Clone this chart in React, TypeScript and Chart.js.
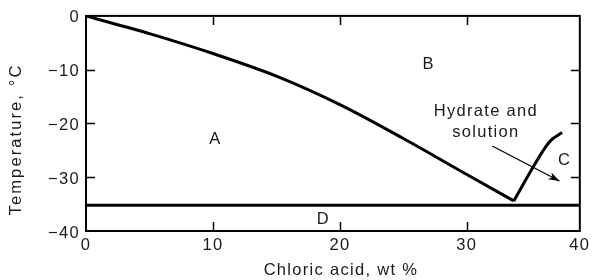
import React, { useEffect, useRef } from 'react';
import { Chart, registerables } from 'chart.js';

Chart.register(...registerables);

// ---- axis ticks ----
const X_MAX = 38.9; // right frame of the plot (labelled "40" in the source)
const X_TICK_VALUES = [0, 10, 20, 30, X_MAX];
const X_TICK_LABELS = ['0', '10', '20', '30', '40'];
const Y_TICK_VALUES = [0, -10, -20, -30, -40];
const Y_TICK_LABELS = ['0', '−10', '−20', '−30', '−40'];
const INNER_X_TICKS = [10, 20, 30];
const INNER_Y_TICKS = [-10, -20, -30];

// ---- curves ----
const ICE_X = [0, 5, 10, 15, 20, 25, 30, 33.7];
const ICE_T = [0, -3.3, -7.0, -11.2, -16.5, -22.8, -29.5, -34.4];
const HYDRATE_X = [33.7, 35.2, 36.0, 36.6, 37.5];
const HYDRATE_T = [-34.4, -28.2, -25.1, -23.2, -21.7];
const EUTECTIC_T = -35.2;

// ---- annotation arrow ----
const ARROW_X = [32.0, 37.3];
const ARROW_T = [-24.2, -30.7];

// ---- labels ----
const REGION_LABELS = ['A', 'B', 'C', 'D'];
const REGION_X = [10.2, 27.0, 37.7, 18.7];
const REGION_T = [-23.0, -9.0, -26.9, -37.8];
const NOTE_LINES = ['Hydrate and', 'solution'];
const NOTE_X = [31.5, 31.5];
const NOTE_T = [-17.7, -21.6];

const X_TITLE = 'Chloric acid, wt %';
const Y_TITLE = 'Temperature, °C';

const FONT_FAMILY = '"Liberation Sans", Arial, Helvetica, sans-serif';
const FONT_SIZE = 16.5;
const TEXT_COLOR = '#1a1a1a';

const toPts = (xs: number[], ys: number[]) => xs.map((x, i) => ({ x, y: ys[i] }));

const decorPlugin = {
  id: 'decor',
  beforeDraw(chart: any) {
    chart.ctx.letterSpacing = '1.3px';
  },
  afterDraw(chart: any) {
    const { ctx, chartArea, scales } = chart;
    const xs = scales.x;
    const ys = scales.y;
    const { left, right, top, bottom } = chartArea;
    ctx.save();
    ctx.letterSpacing = '1.3px';
    // frame
    ctx.strokeStyle = '#000';
    ctx.lineWidth = 2;
    ctx.strokeRect(left, top, right - left, bottom - top);
    // inward ticks
    ctx.lineWidth = 1.5;
    const tl = 9;
    ctx.beginPath();
    INNER_X_TICKS.forEach((v) => {
      const px = Math.round(xs.getPixelForValue(v)) + 0.5;
      ctx.moveTo(px, top);
      ctx.lineTo(px, top + tl);
      ctx.moveTo(px, bottom);
      ctx.lineTo(px, bottom - tl);
    });
    INNER_Y_TICKS.forEach((v) => {
      const py = Math.round(ys.getPixelForValue(v)) + 0.5;
      ctx.moveTo(left, py);
      ctx.lineTo(left + tl, py);
      ctx.moveTo(right, py);
      ctx.lineTo(right - tl, py);
    });
    ctx.stroke();

    // arrowhead
    const x0 = xs.getPixelForValue(ARROW_X[0]);
    const y0 = ys.getPixelForValue(ARROW_T[0]);
    const x1 = xs.getPixelForValue(ARROW_X[1]);
    const y1 = ys.getPixelForValue(ARROW_T[1]);
    const ang = Math.atan2(y1 - y0, x1 - x0);
    const L = 11;
    const W = 3.8;
    ctx.fillStyle = '#000';
    ctx.beginPath();
    ctx.moveTo(x1, y1);
    ctx.lineTo(x1 - L * Math.cos(ang) + W * Math.sin(ang), y1 - L * Math.sin(ang) - W * Math.cos(ang));
    ctx.lineTo(x1 - L * 0.75 * Math.cos(ang), y1 - L * 0.75 * Math.sin(ang));
    ctx.lineTo(x1 - L * Math.cos(ang) - W * Math.sin(ang), y1 - L * Math.sin(ang) + W * Math.cos(ang));
    ctx.closePath();
    ctx.fill();

    // text labels
    ctx.fillStyle = TEXT_COLOR;
    ctx.font = `${FONT_SIZE}px ${FONT_FAMILY}`;
    ctx.textAlign = 'center';
    ctx.textBaseline = 'middle';
    REGION_LABELS.forEach((t, i) => {
      ctx.fillText(t, xs.getPixelForValue(REGION_X[i]), ys.getPixelForValue(REGION_T[i]));
    });
    NOTE_LINES.forEach((t, i) => {
      ctx.fillText(t, xs.getPixelForValue(NOTE_X[i]), ys.getPixelForValue(NOTE_T[i]));
    });

    // axis titles
    ctx.fillText(X_TITLE, (left + right) / 2 + 8, bottom + 39);
    ctx.save();
    ctx.letterSpacing = '2.1px';
    ctx.translate(16, (top + bottom) / 2 + 16);
    ctx.rotate(-Math.PI / 2);
    ctx.fillText(Y_TITLE, 0, 0);
    ctx.restore();

    ctx.restore();
  },
};

export default function App() {
  const ref = useRef<HTMLCanvasElement | null>(null);

  useEffect(() => {
    if (!ref.current) return;
    const line = { borderColor: '#000', pointRadius: 0, showLine: true, fill: false };
    const chart = new Chart(ref.current, {
      type: 'scatter',
      data: {
        datasets: [
          { ...line, label: 'ice', data: toPts(ICE_X, ICE_T), borderWidth: 3, cubicInterpolationMode: 'monotone' },
          { ...line, label: 'hydrate', data: toPts(HYDRATE_X, HYDRATE_T), borderWidth: 3, cubicInterpolationMode: 'monotone' },
          { ...line, label: 'eutectic', data: [{ x: 0, y: EUTECTIC_T }, { x: X_MAX, y: EUTECTIC_T }], borderWidth: 3 },
          { ...line, label: 'arrow', data: toPts(ARROW_X, ARROW_T), borderWidth: 1.3 },
        ] as any,
      },
      options: {
        animation: false,
        responsive: false,
        layout: { padding: { top: 14, right: 13, left: 0, bottom: 0 } },
        plugins: { legend: { display: false }, tooltip: { enabled: false } },
        scales: {
          x: {
            type: 'linear',
            min: 0,
            max: X_MAX,
            grid: { display: false, drawTicks: false },
            border: { display: false },
            afterBuildTicks: (s: any) => {
              s.ticks = X_TICK_VALUES.map((value) => ({ value }));
            },
            afterFit: (s: any) => {
              s.height = 49;
            },
            ticks: {
              autoSkip: false,
              maxRotation: 0,
              padding: 5,
              color: TEXT_COLOR,
              font: { family: FONT_FAMILY, size: FONT_SIZE },
              callback: (v: any) => X_TICK_LABELS[X_TICK_VALUES.indexOf(Number(v))] ?? '',
            },
          },
          y: {
            type: 'linear',
            min: -40,
            max: 0,
            grid: { display: false, drawTicks: false },
            border: { display: false },
            afterBuildTicks: (s: any) => {
              s.ticks = [...Y_TICK_VALUES].reverse().map((value) => ({ value }));
            },
            afterFit: (s: any) => {
              s.width = 86;
            },
            ticks: {
              autoSkip: false,
              padding: 6,
              labelOffset: 2,
              color: TEXT_COLOR,
              font: { family: FONT_FAMILY, size: FONT_SIZE },
              callback: (v: any) => Y_TICK_LABELS[Y_TICK_VALUES.indexOf(Number(v))] ?? '',
            },
          },
        },
      } as any,
      plugins: [decorPlugin],
    });
    return () => chart.destroy();
  }, []);

  return (
    <div style={{ position: 'fixed', left: 0, top: 0, width: 594, height: 280, background: '#fff' }}>
      <canvas ref={ref} width={594} height={280} style={{ display: 'block' }} />
    </div>
  );
}
